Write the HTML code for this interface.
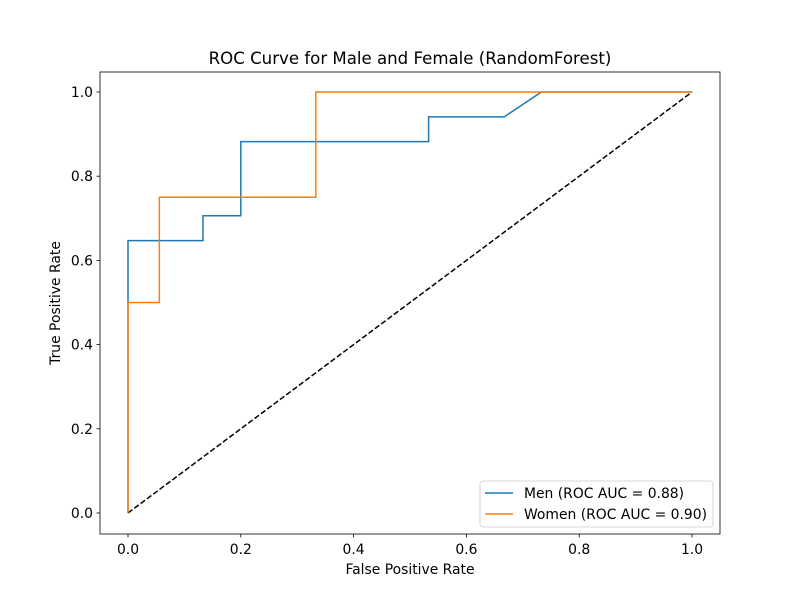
<!DOCTYPE html>
<html><head><meta charset="utf-8"><style>
body{margin:0;background:#fff;}
svg text{font-family:"DejaVu Sans","Liberation Sans",sans-serif;fill:#000;}
</style></head><body>
<svg id="chart" width="800" height="600" xmlns="http://www.w3.org/2000/svg">
<rect x="0" y="0" width="800" height="600" fill="#fff"/>
<g id="plot"></g>
</svg>
<script>
const menFpr=[0,0,0.133,0.133,0.2,0.2,0.533,0.533,0.667,0.733,1];
const menTpr=[0,0.647,0.647,0.706,0.706,0.882,0.882,0.941,0.941,1,1];
const womenFpr=[0,0,0.0556,0.0556,0.333,0.333,1];
const womenTpr=[0,0.5,0.5,0.75,0.75,1,1];
const diagX=[0,1];
const diagY=[0,1];
const xTicks=[0,0.2,0.4,0.6,0.8,1.0];
const yTicks=[0,0.2,0.4,0.6,0.8,1.0];
const legendLabels=["Men (ROC AUC = 0.88)","Women (ROC AUC = 0.90)"];

const NS="http://www.w3.org/2000/svg";
const g=document.getElementById('plot');
const X=v=>128+v*564, Y=v=>513-v*421;
function el(t,a,txt){const e=document.createElementNS(NS,t);for(const k in a)e.setAttribute(k,a[k]);if(txt!==undefined)e.textContent=txt;g.appendChild(e);return e;}
function line(xs,ys,color,dash,name){
  const p=el('polyline',{points:xs.map((x,i)=>X(x)+','+Y(ys[i])).join(' '),fill:'none',stroke:color,'stroke-width':1.5});
  if(dash)p.setAttribute('stroke-dasharray','5.5,2.4');
  
  
}
line(diagX,diagY,'#000',true,'chance-diagonal');
line(menFpr,menTpr,'#1f77b4',false,'men-roc-line');
line(womenFpr,womenTpr,'#ff7f0e',false,'women-roc-line');
const frame=el('rect',{x:100,y:72,width:620,height:462,fill:'none',stroke:'#000','stroke-width':0.8});


xTicks.forEach(t=>{
  el('line',{x1:X(t),x2:X(t),y1:534,y2:537.5,stroke:'#000','stroke-width':0.8});
  const tx=el('text',{x:X(t),y:554,'font-size':13.9,'text-anchor':'middle'},t.toFixed(1));
  
  
});
yTicks.forEach(t=>{
  el('line',{x1:96.5,x2:100,y1:Y(t),y2:Y(t),stroke:'#000','stroke-width':0.8});
  const tx=el('text',{x:93,y:Y(t)+5,'font-size':13.9,'text-anchor':'end'},t.toFixed(1));
  
  
});
const ttl=el('text',{x:410,y:64,'font-size':16.6,'text-anchor':'middle'},'ROC Curve for Male and Female (RandomForest)');


const xl=el('text',{x:410,y:574,'font-size':13.9,'text-anchor':'middle'},'False Positive Rate');


const yl=el('text',{x:0,y:0,'font-size':13.9,'text-anchor':'middle',transform:'translate(60,303) rotate(-90)'},'True Positive Rate');


const lb=el('rect',{x:480,y:481,width:233,height:46,rx:3,fill:'#fff','fill-opacity':0.8,stroke:'#ccc','stroke-width':0.8});


const cols=['#1f77b4','#ff7f0e'];
legendLabels.forEach((l,i)=>{
  const y=493+i*21;
  el('line',{x1:485,x2:513,y1:y,y2:y,stroke:cols[i],'stroke-width':1.5});
  const t=el('text',{x:524,y:y+5,'font-size':13.9},l);
  
  
});
</script>
</body></html>
